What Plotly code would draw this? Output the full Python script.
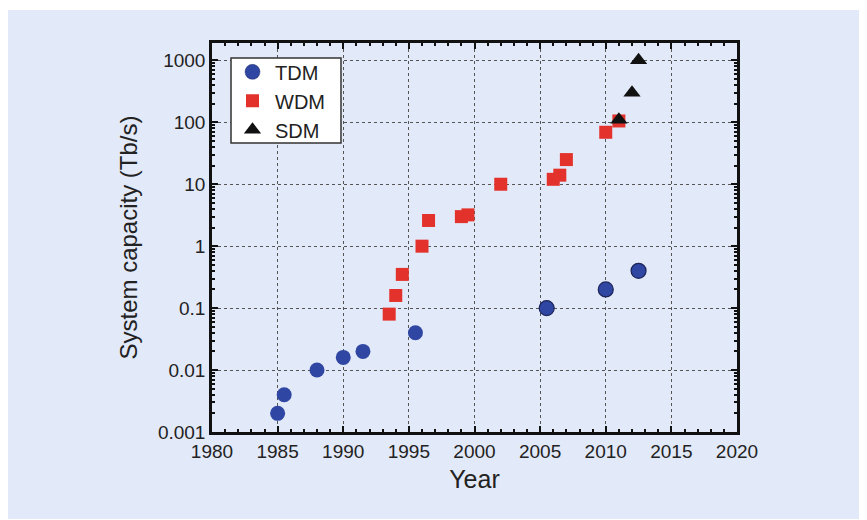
import plotly.graph_objects as go

# ---- data ----
tdm_year = [1985, 1985.5, 1988, 1990, 1991.5, 1995.5, 2005.5, 2010, 2012.5]
tdm_cap = [0.002, 0.004, 0.01, 0.016, 0.02, 0.04, 0.1, 0.2, 0.4]
tdm_outline = [0, 0, 0, 0, 0, 0, 1, 1, 1]

wdm_year = [1993.5, 1994, 1994.5, 1996, 1996.5, 1999, 1999.5, 2002, 2006, 2006.5, 2007, 2010, 2011]
wdm_cap = [0.08, 0.16, 0.35, 1, 2.6, 3, 3.2, 10, 12, 14, 25, 69, 105]

sdm_year = [2011, 2012, 2012.5]
sdm_cap = [110, 300, 1000]

x_ticks = [1980, 1985, 1990, 1995, 2000, 2005, 2010, 2015, 2020]
y_ticks = [0.001, 0.01, 0.1, 1, 10, 100, 1000]
y_ticktext = ["0.001", "0.01", "0.1", "1", "10", "100", "1000"]

BG = "#e2e9f8"
BLUE = "#2f46a3"
RED = "#e3322b"
FONT = "Liberation Sans, Arial, sans-serif"
TXT = "#222222"

fig = go.Figure()
fig.add_trace(go.Scatter(
    x=tdm_year, y=tdm_cap, mode="markers", name="TDM", legendgroup="a",
    marker=dict(symbol="circle", size=15, color=BLUE,
                line=dict(color="#1b2458", width=[w * 1.2 for w in tdm_outline]))))
fig.add_trace(go.Scatter(
    x=wdm_year, y=wdm_cap, mode="markers", name="WDM", legendgroup="b",
    marker=dict(symbol="square", size=13, color=RED, line=dict(width=0))))
fig.add_trace(go.Scatter(
    x=sdm_year, y=sdm_cap, mode="markers", name="SDM", legendgroup="c",
    marker=dict(symbol="triangle-up", size=15, color="#111111", line=dict(width=0))))

minor_y = [k * 10.0 ** e for e in range(-3, 4) for k in range(2, 10)]

axis_common = dict(
    showline=True, linecolor="#111111", linewidth=2.5, mirror="allticks",
    ticks="inside", ticklen=6, tickwidth=2, tickcolor="#111111",
    showgrid=True, gridcolor="#555555", gridwidth=1, griddash="dot",
    zeroline=False,
    tickfont=dict(family=FONT, size=19, color=TXT),
)

fig.update_xaxes(
    **axis_common, range=[1980, 2020], tickvals=x_ticks,
    title=dict(text="Year", font=dict(family=FONT, size=25, color=TXT), standoff=10),
    minor=dict(ticks="inside", ticklen=3, tickwidth=2, tickcolor="#111111", dtick=1, showgrid=False),
)
fig.update_yaxes(
    **axis_common, type="log", range=[-3, 3.28], tickvals=y_ticks, ticktext=y_ticktext,
    title=dict(text="System capacity (Tb/s)", font=dict(family=FONT, size=24, color=TXT), standoff=14),
    minor=dict(ticks="inside", ticklen=3, tickwidth=2, tickcolor="#111111", tickvals=minor_y, showgrid=False),
)

# lavender panel background
fig.add_shape(type="rect", xref="paper", yref="paper",
              x0=-0.3886, x1=1.26, y0=-0.2237, y1=1.0848,
              fillcolor=BG, line=dict(width=0), layer="below")
# legend box
fig.add_shape(type="rect", xref="paper", yref="paper",
              x0=0.0362, x1=0.2457, y0=0.7429, y1=0.9614,
              fillcolor="white", line=dict(color="#333333", width=1.5), layer="above")

fig.update_layout(
    width=859, height=512,
    margin=dict(l=204, r=130, t=35, b=88),
    paper_bgcolor="white", plot_bgcolor="rgba(0,0,0,0)",
    font=dict(family=FONT, color=TXT),
    legend=dict(x=0.0343, y=0.976, xanchor="left", yanchor="top",
                bgcolor="rgba(0,0,0,0)", borderwidth=0,
                font=dict(family=FONT, size=20, color=TXT),
                tracegroupgap=0, itemwidth=35),
)

fig.write_html("out.html")
